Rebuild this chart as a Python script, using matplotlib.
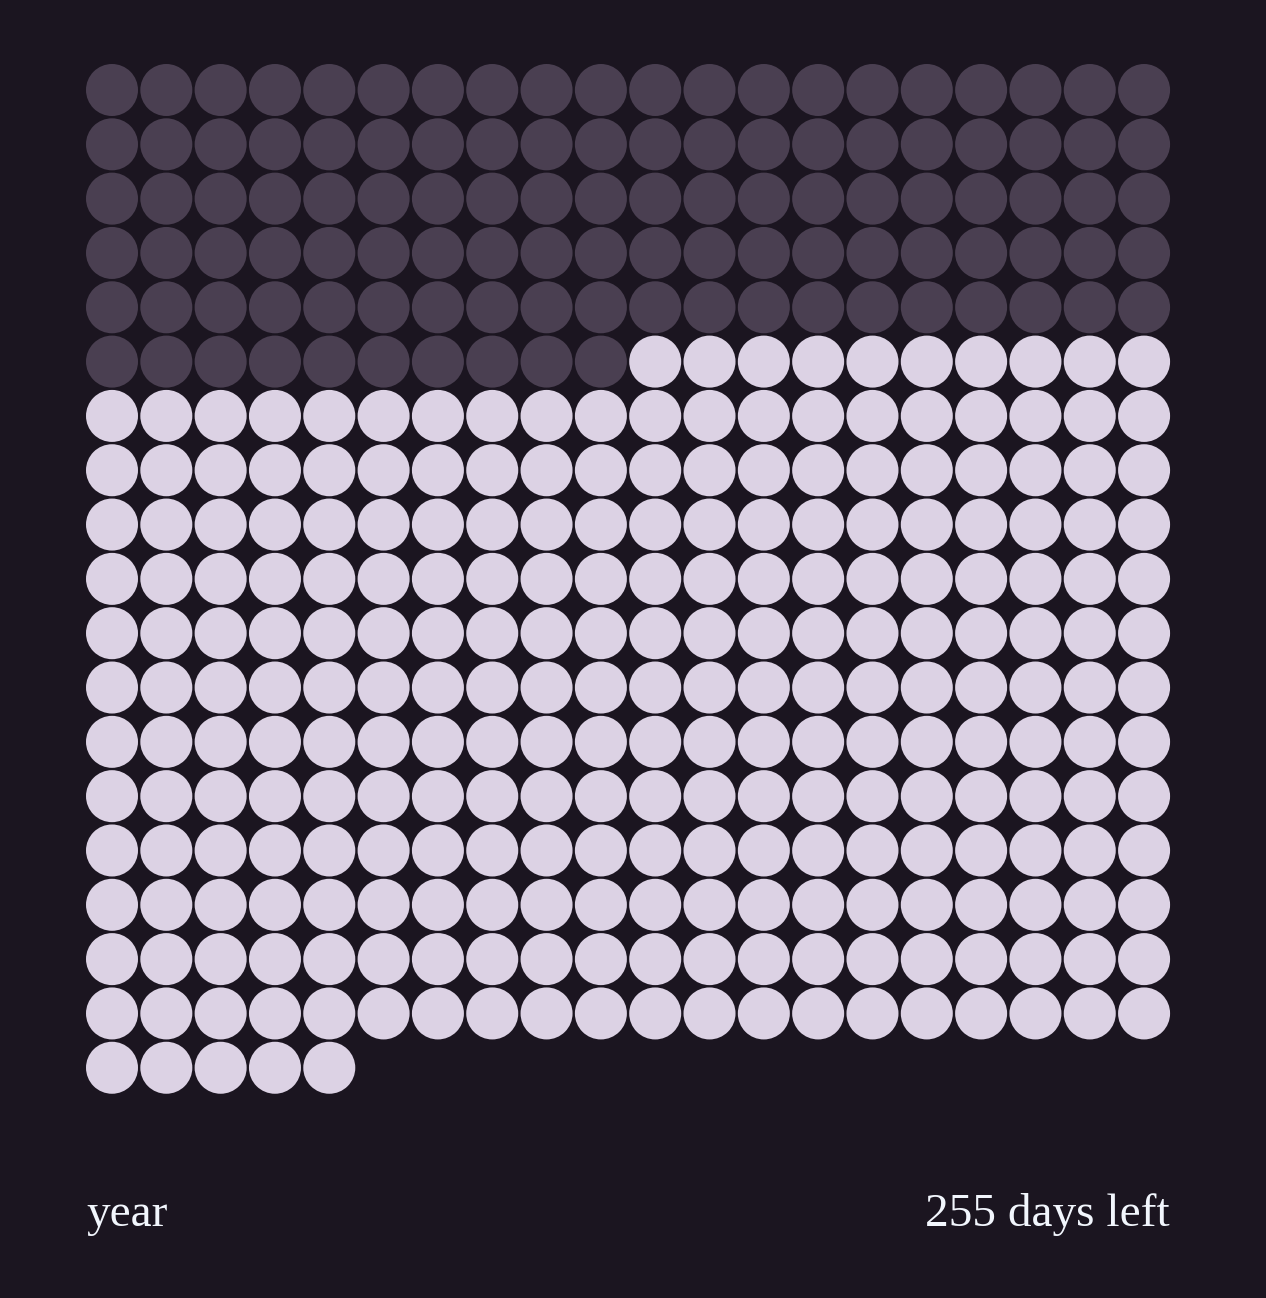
import numpy as np
import matplotlib.pyplot as plt
from matplotlib.patches import Circle

# year progress: 365 days, 110 already gone
total_days = 365
days_passed = 110
n_cols = 20
label_left = "year"
label_right = f"{total_days - days_passed} days left"

bg = "#1b1520"
past_color = "#4a3f51"
future_color = "#dcd2e4"
text_color = "#f2f6fd"

cell = 54.32  # px per grid cell
x0, y0 = 112, 90  # centre of first dot, px
W, H = 1266, 1298

fig = plt.figure(figsize=(W / 100, H / 100), dpi=100)
fig.patch.set_facecolor(bg)
ax = fig.add_axes([0, 0, 1, 1])
ax.set_facecolor(bg)
ax.set_xlim(-x0 / cell, (W - x0) / cell)
ax.set_ylim((H - y0) / cell, -y0 / cell)
ax.axis("off")

r = 26 / cell
for d in range(total_days):
    row, col = divmod(d, n_cols)
    c = past_color if d < days_passed else future_color
    ax.add_patch(Circle((col, row), r, facecolor=c, edgecolor="none"))

base = (1226 - y0) / cell
ax.text(-r, base, label_left, color=text_color, fontsize=34,
        family="Liberation Serif", ha="left", va="baseline")
ax.text(n_cols - 1 + r, base, label_right, color=text_color, fontsize=34,
        family="Liberation Serif", ha="right", va="baseline")

fig.savefig("out.png", dpi=100, facecolor=bg)
